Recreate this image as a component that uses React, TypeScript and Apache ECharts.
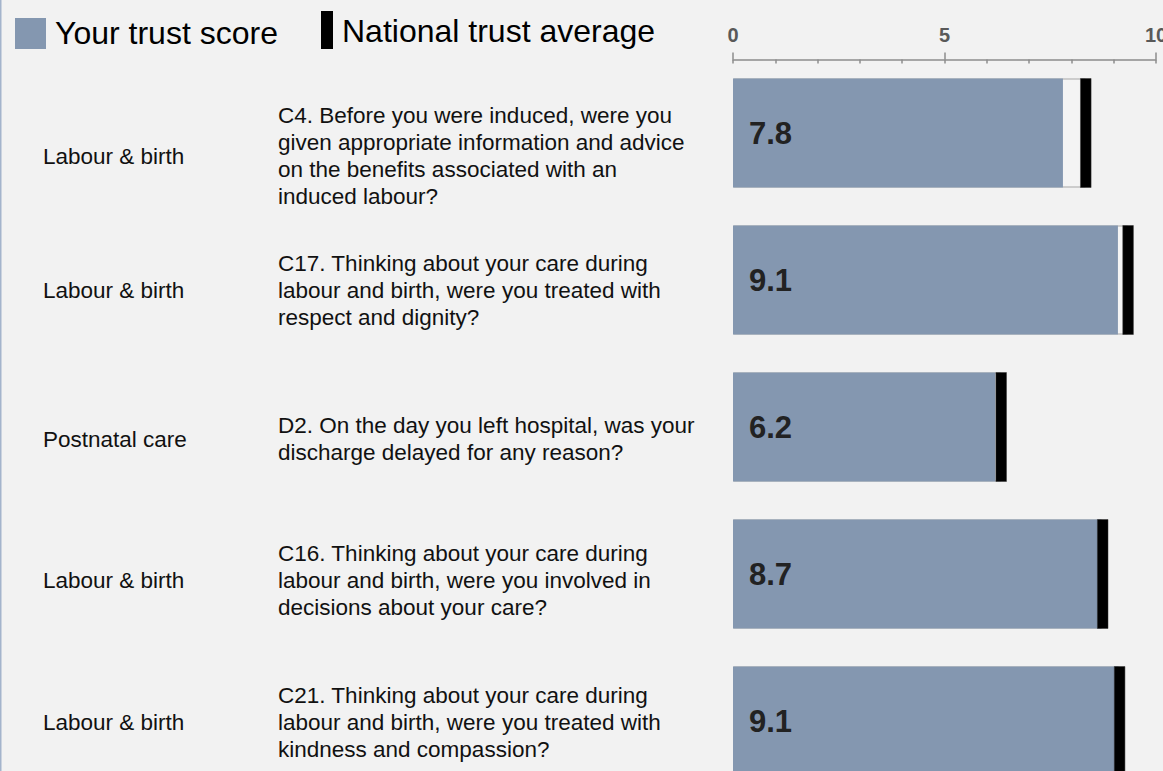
import React, { useEffect, useRef } from "react";
import * as echarts from "echarts";

const sections = ["Labour & birth", "Labour & birth", "Postnatal care", "Labour & birth", "Labour & birth"];
const questions = [
  "C4. Before you were induced, were you\ngiven appropriate information and advice\non the benefits associated with an\ninduced labour?",
  "C17. Thinking about your care during\nlabour and birth, were you treated with\nrespect and dignity?",
  "D2. On the day you left hospital, was your\ndischarge delayed for any reason?",
  "C16. Thinking about your care during\nlabour and birth, were you involved in\ndecisions about your care?",
  "C21. Thinking about your care during\nlabour and birth, were you treated with\nkindness and compassion?",
];
const trustScores = [7.8, 9.1, 6.2, 8.7, 9.1];
const nationalAverages = [8.34, 9.34, 6.34, 8.74, 9.14];
const legendLabels = ["Your trust score", "National trust average"];

const FONT = "'Liberation Sans', Arial, sans-serif";
const BLUE = "#8497b0";
// row 2 of the text column sits slightly higher than the regular spacing:
// an extra short spacer line lifts the centred block a little
const liftRow = (v: string, i: number) => (i === 1 ? v + "\n{sp| }" : v);
const spacerRich = { sp: { fontSize: 2, lineHeight: 14 } };

export default function App() {
  const ref = useRef<HTMLDivElement>(null);
  useEffect(() => {
    if (!ref.current) return;
    const chart = echarts.init(ref.current, undefined, { renderer: "svg" });
    const rowIdx = trustScores.map((_, i) => i);
    chart.setOption({
      animation: false,
      backgroundColor: "#f2f2f2",
      textStyle: { fontFamily: FONT },
      grid: [
        { left: 733, top: 59.5, width: 423, height: 735, outerBoundsMode: "none", containLabel: false },
        { left: 733, top: 85.25, width: 423, height: 707.5, outerBoundsMode: "none", containLabel: false },
      ],
      xAxis: [
        {
          type: "value", gridIndex: 0, position: "top", min: 0, max: 10, interval: 5,
          axisLine: { show: true, lineStyle: { color: "#8c8c8c", width: 1.5 } },
          axisTick: { show: true, length: 7, lineStyle: { color: "#8c8c8c", width: 1.5 } },
          axisLabel: { fontSize: 20, fontWeight: "bold", color: "#595959", margin: 15, fontFamily: FONT },
          splitLine: { show: false },
        },
        {
          type: "value", gridIndex: 0, position: "top", min: 0, max: 10, interval: 1,
          axisLine: { show: false },
          axisTick: { show: true, inside: true, length: 4, lineStyle: { color: "#8c8c8c", width: 1.5 } },
          axisLabel: { show: false },
          splitLine: { show: false },
        },
        { type: "value", gridIndex: 1, min: 0, max: 1, show: false },
      ],
      yAxis: [
        {
          type: "category", gridIndex: 0, inverse: true, data: rowIdx,
          axisLine: { show: false }, axisTick: { show: false }, axisLabel: { show: false },
        },
        {
          type: "category", gridIndex: 1, inverse: true, position: "left",
          data: questions,
          axisLine: { show: false }, axisTick: { show: false },
          axisLabel: {
            interval: 0, align: "left", verticalAlign: "middle", margin: 455,
            fontSize: 22.5, lineHeight: 27, color: "#111", fontFamily: FONT,
            formatter: liftRow, rich: spacerRich,
          },
        },
        {
          type: "category", gridIndex: 1, inverse: true, position: "left",
          data: sections,
          axisLine: { show: false }, axisTick: { show: false },
          axisLabel: {
            interval: 0, align: "left", verticalAlign: "middle", margin: 690,
            fontSize: 22.5, lineHeight: 27, color: "#111", fontFamily: FONT,
            formatter: liftRow, rich: spacerRich,
          },
        },
      ],
      series: [
        {
          type: "bar", name: "National background", xAxisIndex: 0, yAxisIndex: 0,
          data: nationalAverages, barWidth: 109, barGap: "-100%", silent: true, z: 2,
          itemStyle: { color: "#f4f4f4", borderColor: "#a6a6a6", borderWidth: 1 },
        },
        {
          type: "bar", name: legendLabels[0], xAxisIndex: 0, yAxisIndex: 0,
          data: trustScores, barWidth: 109, barGap: "-100%", z: 3,
          itemStyle: { color: BLUE },
          label: {
            show: true, position: "insideLeft", distance: 16,
            formatter: (p: any) => Number(p.value).toFixed(1),
            fontSize: 31, fontWeight: "bold", color: "#222", fontFamily: FONT,
          },
        },
        {
          type: "custom", name: legendLabels[1], xAxisIndex: 0, yAxisIndex: 0, z: 5,
          data: nationalAverages.map((v, i) => [v, i]),
          encode: { x: 0, y: 1 },
          renderItem: (params: any, api: any) => {
            const c = api.coord([api.value(0), api.value(1)]);
            const band = api.size([0, 1])[1];
            const h = band * (109 / 147);
            const w = 10.6;
            return {
              type: "rect",
              z2: 10,
              shape: { x: c[0] - w / 2, y: c[1] - h / 2, width: w, height: h },
              style: { fill: "#000", stroke: "#333", lineWidth: 0.5 },
            };
          },
        },
      ],
      graphic: [
        { type: "rect", shape: { x: 0, y: 0, width: 1.5, height: 771 }, style: { fill: "#a4b4cc" } },
        { type: "rect", shape: { x: 15, y: 18, width: 31, height: 31 }, style: { fill: BLUE } },
        {
          type: "text", x: 55, y: 33,
          style: { text: legendLabels[0], fontSize: 32, fontFamily: FONT, fill: "#000", verticalAlign: "middle" },
        },
        { type: "rect", shape: { x: 321, y: 11, width: 12, height: 38 }, style: { fill: "#000" } },
        {
          type: "text", x: 342, y: 31,
          style: { text: legendLabels[1], fontSize: 32, fontFamily: FONT, fill: "#000", verticalAlign: "middle" },
        },
      ],
    });
    return () => chart.dispose();
  }, []);
  return (
    <div
      ref={ref}
      style={{ position: "absolute", left: 0, top: 0, width: 1163, height: 771 }}
    />
  );
}
